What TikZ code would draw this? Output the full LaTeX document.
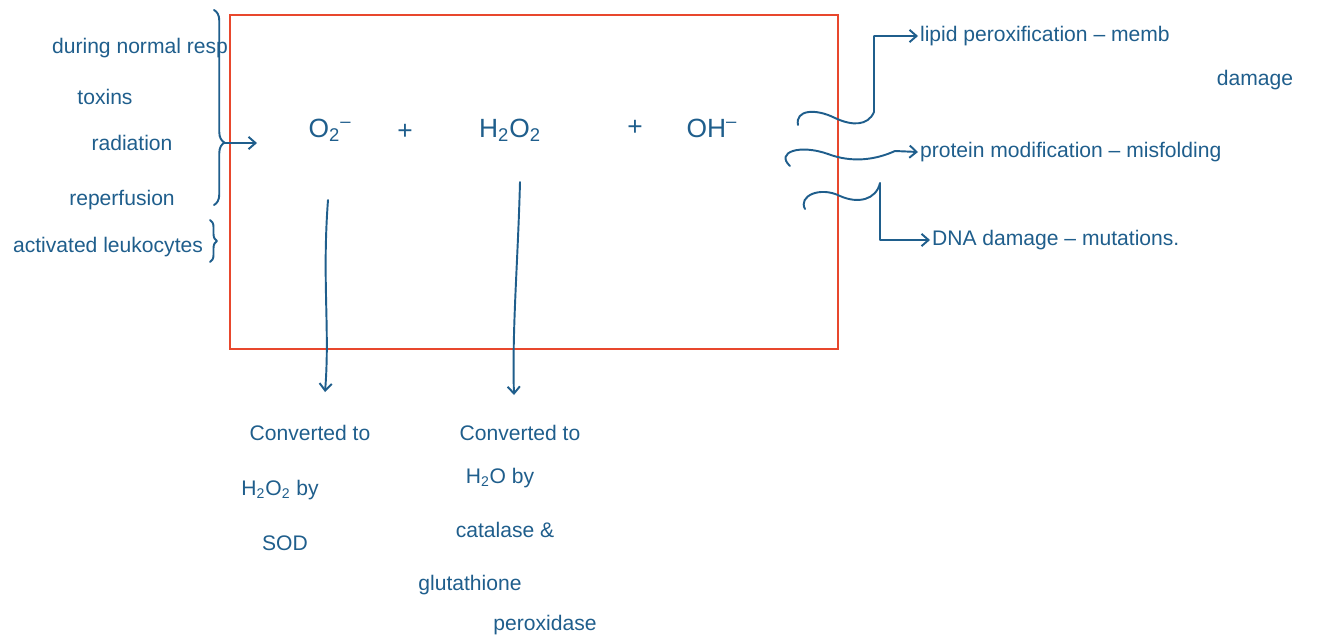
\documentclass[tikz,border=0pt]{standalone}
\usepackage{fontspec}
\setmainfont{Liberation Sans}
\usetikzlibrary{arrows.meta,positioning,calc,decorations.pathreplacing}
\definecolor{inkblue}{HTML}{1F5E8C}
\definecolor{boxred}{HTML}{E8472D}
\newcommand{\rossub}[1]{\textsubscript{#1}}
\tikzset{
  ros/.style={text=inkblue, font=\fontsize{12}{14}\selectfont, inner sep=1pt},
  rosbig/.style={ros, font=\fontsize{15}{17}\selectfont},
  rosbox/.style={draw=boxred, line width=1.2pt},
  rosline/.style={draw=inkblue, line width=1.1pt, line cap=round, line join=round},
  rosarrow/.style={rosline, -{Straight Barb[length=4pt,width=7pt]}},
  rosbrace/.style={rosline, decorate, decoration={brace,amplitude=#1}}
}

\begin{document}
\begin{tikzpicture}[x=0.02cm,y=-0.02cm]
  \useasboundingbox (0,0) rectangle (1336,643);
  % the box
  \draw[rosbox] (230,15) rectangle (838,349);
  % causes on the left
  \node[ros] (resp) at (140,48) {during normal resp};
  \node[ros] (tox) at (105,97) {toxins};
  \node[ros] (rad) at (132,143) {radiation};
  \node[ros] (reperf) at (122,200) {reperfusion};
  \node[ros] (leuko) at (108,247) {activated leukocytes};
  \draw[rosbrace=6pt,decoration={aspect=0.68}] (214,10) -- (214,205);
  \draw[rosbrace=4pt] (210,220) -- (210,262);
  \coordinate (bracetip) at (224,143);
  \coordinate (radin) at (257,143);
  % radicals in the box
  \node[rosbig] (o2) at (330,130) {O\rossub{2}\textsuperscript{--}};
  \node[rosbig] (plusa) at (405,132) {+};
  \node[rosbig] (h2o2) at (510,130) {H\rossub{2}O\rossub{2}};
  \node[rosbig] (plusb) at (635,128) {+};
  \node[rosbig] (oh) at (712,128) {OH\textsuperscript{--}};
  \draw[rosarrow] (bracetip) -- (radin);
  % detox below
  \node[ros] (sodconv) at (310,433) {Converted to};
  \node[ros] (sodprod) at (280,490) {H\rossub{2}O\rossub{2} by};
  \node[ros] (sodenz) at (285,543) {SOD};
  \node[ros] (catconv) at (520,433) {Converted to};
  \node[ros] (catprod) at (500,478) {H\rossub{2}O by};
  \node[ros] (catenz) at (505,530) {catalase \&};
  \node[ros] (gsh) at (470,585) {glutathione};
  \node[ros] (gpx) at (545,625) {peroxidase};
  \coordinate (sodtop) at (328,200);
  \coordinate (sodtip) at (325,392);
  \coordinate (cattop) at (520,182);
  \coordinate (cattip) at (514,395);
  \draw[rosarrow] (sodtop) .. controls (322,280) and (330,330) .. (sodtip);
  \draw[rosarrow] (cattop) .. controls (518,260) and (512,330) .. (cattip);
  % damage on the right
  \node[ros,anchor=west] (lipid) at (918,36) {lipid peroxification -- memb};
  \node[ros] (lipiddmg) at (1255,80) {damage};
  \node[ros,anchor=west] (protein) at (918,152) {protein modification -- misfolding};
  \node[ros,anchor=west] (dna) at (930,240) {DNA damage -- mutations.};
  \coordinate (wavea) at (798,125);
  \coordinate (waveb) at (790,166);
  \coordinate (wavec) at (805,209);
  \draw[rosarrow] (wavea) .. controls (795,110) and (815,108) .. (835,118)
    .. controls (852,126) and (868,126) .. (874,112) |- (lipid.west);
  \draw[rosarrow] (waveb) .. controls (775,152) and (800,144) .. (828,154)
    .. controls (852,163) and (875,160) .. (895,151) -- (protein.west);
  \draw[rosarrow] (wavec) .. controls (798,196) and (820,186) .. (840,196)
    .. controls (858,204) and (876,200) .. (880,183) |- (dna.west);
\end{tikzpicture}
\end{document}
